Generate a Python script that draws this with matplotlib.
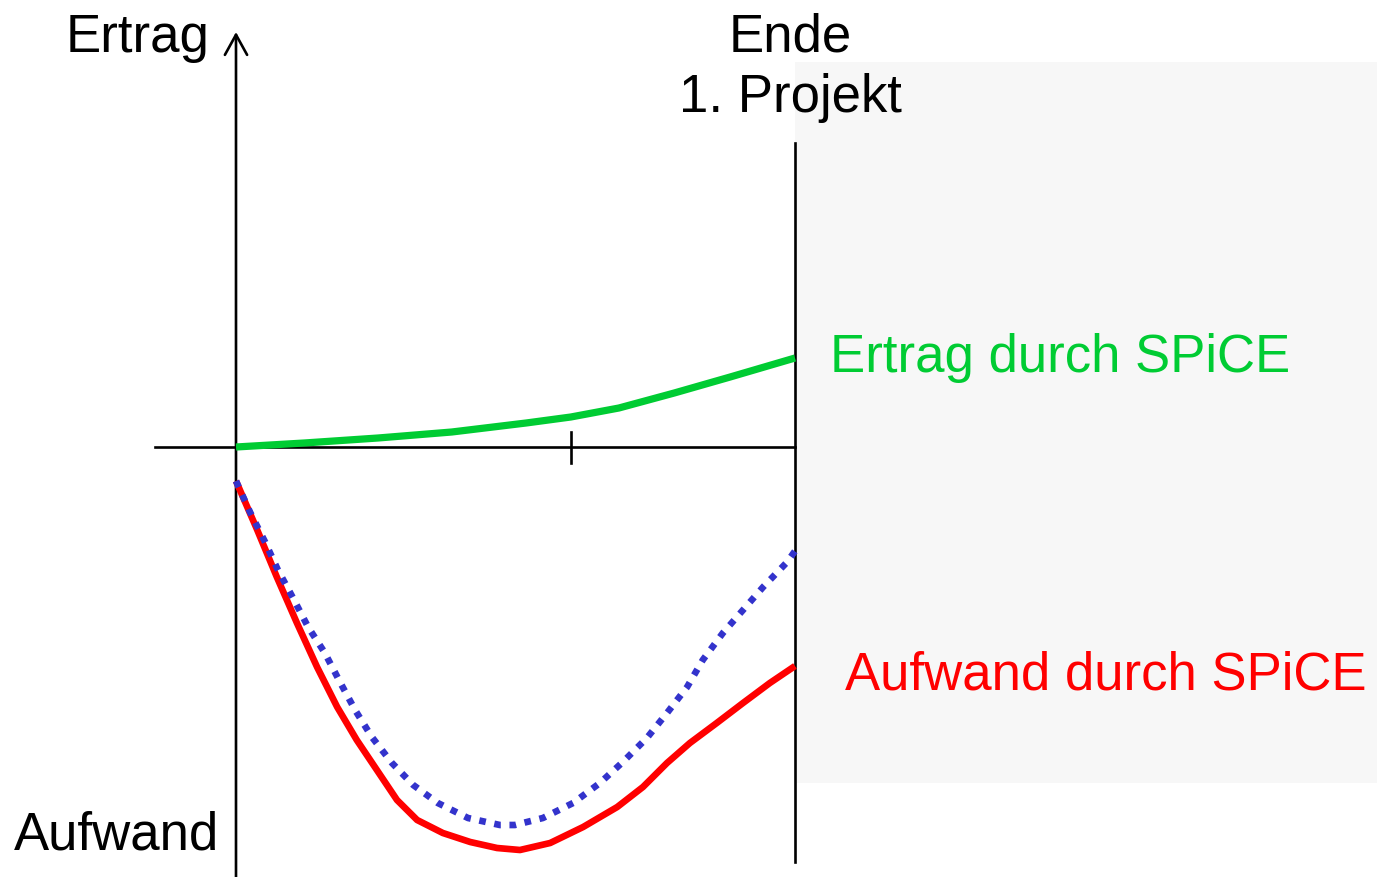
import matplotlib
matplotlib.use("Agg")
import matplotlib.pyplot as plt
from matplotlib.patches import Rectangle

plt.rcParams['font.family'] = ['Liberation Sans', 'DejaVu Sans']

# Ertrag durch SPiCE (green)
ertrag_x = [0, 0.122, 0.254, 0.386, 0.519, 0.599, 0.685, 0.784, 0.884, 1.0]
ertrag_y = [0, 0.04, 0.09, 0.15, 0.24, 0.30, 0.39, 0.54, 0.70, 0.89]

# Aufwand durch SPiCE (red)
aufwand_x = [0, 0.038, 0.073, 0.109, 0.145, 0.181, 0.216, 0.252, 0.288,
             0.324, 0.370, 0.419, 0.467, 0.508, 0.562, 0.621, 0.682, 0.728,
             0.771, 0.812, 0.860, 0.907, 0.955, 1.0]
aufwand_y = [-0.34, -0.83, -1.30, -1.76, -2.20, -2.60, -2.93, -3.23, -3.53,
             -3.73, -3.86, -3.95, -4.01, -4.03, -3.96, -3.80, -3.60, -3.40,
             -3.16, -2.96, -2.76, -2.56, -2.36, -2.19]

# dotted blue curve
blau_x = [0, 0.025, 0.052, 0.075, 0.102, 0.129, 0.159, 0.186, 0.213, 0.243,
          0.279, 0.317, 0.361, 0.415, 0.472, 0.499, 0.549, 0.603, 0.651,
          0.692, 0.735, 0.771, 0.807, 0.835, 0.871, 0.907, 0.943, 0.986, 1.0]
blau_y = [-0.34, -0.65, -0.95, -1.23, -1.51, -1.80, -2.06, -2.35, -2.63,
          -2.90, -3.16, -3.38, -3.56, -3.71, -3.78, -3.78, -3.71, -3.56,
          -3.36, -3.15, -2.91, -2.66, -2.40, -2.13, -1.86, -1.63, -1.40,
          -1.15, -1.04]

tick_x = 0.6
ende_x = 1.0

fig = plt.figure(figsize=(13.77, 8.77), dpi=100)
ax = fig.add_axes([0, 0, 1, 1])
ax.set_xlim(-236 / 559, (1377 - 236) / 559)
ax.set_ylim(-4.30, 4.47)
ax.axis("off")

# grey area after end of project
ax.add_patch(Rectangle((ende_x, -3.36), 1.1, 7.21, facecolor="#f7f7f7",
                       edgecolor="none", zorder=0))

# axes
lw_ax = 1.9
ax.plot([-0.145, ende_x], [0, 0], color="black", lw=lw_ax, zorder=2)
ax.plot([tick_x, tick_x], [0.15, -0.16], color="black", lw=lw_ax, zorder=2)
ax.plot([ende_x, ende_x], [3.04, -4.15], color="black", lw=lw_ax, zorder=2)
ax.annotate("", xy=(0, 4.15), xytext=(0, -4.30),
            arrowprops=dict(arrowstyle="->,head_length=1.45,head_width=0.8",
                            lw=lw_ax, color="black", shrinkA=0, shrinkB=0),
            zorder=2)

# curves
ax.plot(ertrag_x, ertrag_y, color="#00cc33", lw=5.2, solid_capstyle="butt",
        solid_joinstyle="round", zorder=3)
ax.plot(aufwand_x, aufwand_y, color="#ff0000", lw=4.8, solid_capstyle="butt",
        solid_joinstyle="round", zorder=3)
ax.plot(blau_x, blau_y, color="#3333cc", lw=4.8, linestyle=(0, (1, 1.3)),
        dash_capstyle="butt", zorder=4)

# labels
fs = 38
ax.text(-0.304, 3.95, "Ertrag", fontsize=fs, va="baseline", ha="left")
ax.text(-0.397, -4.03, "Aufwand", fontsize=fs, va="baseline", ha="left")
ax.text(0.991, 3.95, "Ende", fontsize=fs, va="baseline", ha="center")
ax.text(0.991, 3.35, "1. Projekt", fontsize=fs, va="baseline", ha="center")
ax.text(1.063, 0.75, "Ertrag durch SPiCE", fontsize=fs, va="baseline",
        ha="left", color="#00cc33")
ax.text(1.089, -2.43, "Aufwand durch SPiCE", fontsize=fs, va="baseline",
        ha="left", color="#ff0000")

fig.savefig("out.png", dpi=100)
